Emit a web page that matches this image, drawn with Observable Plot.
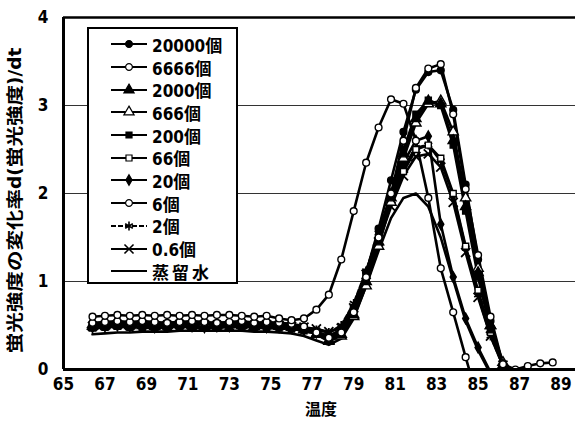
<!DOCTYPE html>
<html><head><meta charset="utf-8">
<script src="https://cdn.jsdelivr.net/npm/d3@7"></script>
<script src="https://cdn.jsdelivr.net/npm/@observablehq/plot@0.6"></script>
<style>
body{margin:0;background:#fff}
#wrap{position:relative;width:575px;height:430px;overflow:hidden}
</style>
</head><body><div id="wrap"></div>
<script>
const temps = [66.4,67.0,67.6,68.2,68.8,69.4,70.0,70.6,71.2,71.8,72.4,73.0,73.6,74.2,74.8,75.4,76.0,76.6,77.2,77.8,78.4,79.0,79.6,80.2,80.8,81.4,82.0,82.6,83.2,83.8,84.4,85.0,85.6,86.2,86.8,87.4,88.0,88.6,89.2];

const s20000 = [0.50,0.52,0.53,0.52,0.51,0.52,0.50,0.51,0.52,0.51,0.50,0.52,0.51,0.50,0.51,0.50,0.49,0.47,0.42,0.38,0.45,0.70,1.10,1.60,2.15,2.70,3.18,3.38,3.40,2.95,2.10,1.25,0.55,0.05,-0.30,null,null,null,null];
const s6666 = [0.53,0.54,0.55,0.54,0.55,0.54,0.53,0.54,0.55,0.54,0.53,0.54,0.55,0.53,0.54,0.53,0.52,0.49,0.42,0.36,0.42,0.65,1.05,1.50,2.00,2.60,3.20,3.42,3.47,2.90,2.05,1.30,0.60,0.06,0.00,0.04,0.07,0.08,null];
const s2000 = [0.49,0.50,0.51,0.50,0.50,0.49,0.50,0.51,0.50,0.49,0.50,0.51,0.50,0.49,0.50,0.49,0.48,0.45,0.40,0.33,0.40,0.62,1.00,1.45,1.95,2.45,2.85,3.05,3.02,2.60,1.85,1.10,0.50,0.05,-0.30,null,null,null,null];
const s666 = [0.51,0.52,0.52,0.51,0.52,0.51,0.51,0.52,0.51,0.52,0.51,0.51,0.52,0.51,0.52,0.50,0.49,0.46,0.40,0.32,0.38,0.60,0.95,1.40,1.90,2.40,2.80,3.02,3.05,2.70,1.95,1.15,0.50,0.08,-0.30,null,null,null,null];
const s200 = [0.47,0.48,0.49,0.48,0.48,0.47,0.48,0.49,0.48,0.47,0.48,0.48,0.49,0.48,0.47,0.47,0.46,0.44,0.41,0.34,0.42,0.65,1.02,1.48,1.98,2.50,2.90,3.06,3.00,2.55,1.80,1.05,0.45,0.03,-0.30,null,null,null,null];
const s66 = [0.50,0.51,0.52,0.51,0.50,0.51,0.52,0.51,0.50,0.51,0.52,0.51,0.50,0.51,0.52,0.51,0.49,0.47,0.43,0.38,0.45,0.68,1.05,1.45,1.90,2.25,2.50,2.55,2.40,2.00,1.40,0.90,0.42,0.05,-0.30,null,null,null,null];
const s20 = [0.48,0.49,0.50,0.49,0.49,0.48,0.49,0.50,0.49,0.48,0.49,0.49,0.50,0.49,0.48,0.48,0.47,0.45,0.42,0.37,0.45,0.70,1.10,1.55,2.00,2.35,2.60,2.65,1.65,1.05,0.58,0.25,-0.03,null,null,null,null,null,null];
const s6 = [0.60,0.61,0.62,0.61,0.62,0.61,0.62,0.61,0.62,0.61,0.62,0.62,0.61,0.60,0.61,0.58,0.56,0.58,0.68,0.85,1.25,1.80,2.35,2.75,3.07,3.02,2.60,1.95,1.15,0.65,0.14,-0.35,null,null,null,null,null,null,null];
const s2 = [0.52,0.53,0.54,0.53,0.53,0.52,0.53,0.54,0.53,0.52,0.53,0.53,0.54,0.53,0.52,0.52,0.50,0.48,0.45,0.42,0.50,0.75,1.12,1.55,1.95,2.30,2.52,2.55,2.37,1.98,1.38,0.85,0.38,0.04,-0.30,null,null,null,null];
const s06 = [0.49,0.50,0.51,0.50,0.51,0.50,0.50,0.51,0.50,0.51,0.50,0.50,0.51,0.50,0.51,0.50,0.49,0.48,0.46,0.43,0.47,0.70,1.08,1.45,1.85,2.20,2.42,2.45,2.30,1.90,1.33,0.82,0.38,0.05,-0.30,null,null,null,null];
const sWater = [0.40,0.41,0.42,0.42,0.43,0.43,0.43,0.44,0.44,0.44,0.44,0.44,0.44,0.43,0.43,0.42,0.41,0.38,0.33,0.28,0.35,0.58,0.95,1.35,1.72,1.95,2.00,1.85,1.50,1.02,0.55,0.22,-0.05,null,null,null,null,null,null];

const seriesNames = ["20000個","6666個","2000個","666個","200個","66個","20個","6個","2個","0.6個","蒸留水"];
const seriesValues = [s20000,s6666,s2000,s666,s200,s66,s20,s6,s2,s06,sWater];
const xTicks = [65,67,69,71,73,75,77,79,81,83,85,87,89];
const yTicks = [0,1,2,3,4];
const gridVals = [1,2,3];
const yTitle = "蛍光強度の変化率d(蛍光強度)/dt";
const xTitle = "温度";

const markerStyle = [
  {symbol:"circle", fill:"black", r:3.4},
  {symbol:"circle", fill:"white", r:3.4},
  {symbol:"triangle", fill:"black", r:3.8},
  {symbol:"triangle", fill:"white", r:3.8},
  {symbol:"square", fill:"black", r:3.4},
  {symbol:"square", fill:"white", r:3.4},
  {symbol:"diamond", fill:"black", r:3.2},
  {symbol:"circle", fill:"white", r:3.4},
  {symbol:"asterisk", fill:"none", r:4.2},
  {symbol:"times", fill:"none", r:4.2},
  null
];
const dashes = [null,null,null,null,null,null,null,null,"5,2",null,null];

const FONT = '"Liberation Sans Narrow","DejaVu Sans Condensed","Liberation Sans","Noto Sans CJK JP",sans-serif';

const rows = [];
seriesNames.forEach((name, k) => {
  seriesValues[k].forEach((v, i) => { if (v !== null) rows.push({s: name, t: temps[i], v}); });
});

const lineMarks = [];
const dotMarks = [];
const order = [10,9,8,6,5,4,3,2,0,1,7];
order.forEach(k => {
  const name = seriesNames[k];
  const d = rows.filter(r => r.s === name);
  lineMarks.push(Plot.line(d, {x:"t", y:"v", stroke:"black", strokeWidth:2.6, clip:true, strokeDasharray: dashes[k] || undefined}));
  const m = markerStyle[k];
  if (m) {
    dotMarks.push(Plot.dot(d.filter(r => r.v >= -0.02), {x:"t", y:"v", symbol:m.symbol, r:m.r,
      fill: m.fill, stroke:"black", strokeWidth: m.fill === "none" ? 1.8 : 1.4, clip:true}));
  }
});

const chart = Plot.plot({
  width:575, height:430,
  marginTop:17, marginBottom:61, marginLeft:63, marginRight:0,
  x:{domain:[65,89.7], ticks:xTicks, tickSize:0, tickPadding:8, tickFormat:d=>String(d), label:null},
  y:{domain:[0,4], ticks:yTicks, tickSize:0, tickPadding:15, tickFormat:d=>String(d), label:null},
  style:{fontFamily:FONT, fontSize:"17px", fontWeight:"bold", color:"black", background:"white"},
  marks:[
    Plot.ruleY(gridVals, {stroke:"#333", strokeWidth:1}),
    ...lineMarks,
    ...dotMarks,
    Plot.ruleX([65], {stroke:"black", strokeWidth:3}),
    Plot.ruleY([0], {stroke:"black", strokeWidth:3}),
    Plot.ruleY([4], {stroke:"black", strokeWidth:2.5})
  ]
});
const wrap = document.getElementById("wrap");
chart.style.position = "absolute"; chart.style.left = "0"; chart.style.top = "0";
wrap.appendChild(chart);

// Legend
const leg = document.createElement("div");
Object.assign(leg.style, {position:"absolute", left:"87px", top:"27px", width:"151px", height:"257px",
  boxSizing:"border-box", border:"2.5px solid black", background:"white", fontFamily:FONT,
  fontWeight:"bold", fontSize:"17px", paddingTop:"4px"});
seriesNames.forEach((name, k) => {
  const row = document.createElement("div");
  Object.assign(row.style, {height:"22.7px", display:"flex", alignItems:"center", whiteSpace:"nowrap"});
  const svg = d3.create("svg").attr("width", 62).attr("height", 20).style("flex", "none");
  svg.append("line").attr("x1", 22).attr("x2", 58).attr("y1", 10).attr("y2", 10)
    .attr("stroke", "black").attr("stroke-width", 2.2).attr("stroke-dasharray", dashes[k]);
  const m = markerStyle[k];
  if (m) {
    const sym = {circle:d3.symbolCircle, triangle:d3.symbolTriangle, square:d3.symbolSquare,
      diamond:d3.symbolDiamond, asterisk:d3.symbolAsterisk, times:d3.symbolTimes}[m.symbol];
    const area = Math.PI * m.r * m.r;
    svg.append("path").attr("d", d3.symbol(sym, area)()).attr("transform", "translate(40,10)")
      .attr("fill", m.fill).attr("stroke", "black").attr("stroke-width", m.fill === "none" ? 1.6 : 1.2);
  }
  row.appendChild(svg.node());
  const txt = document.createElement("span");
  txt.textContent = name;
  txt.style.marginLeft = "1px";
  if (name === "蒸留水") txt.style.letterSpacing = "3px";
  row.appendChild(txt);
  leg.appendChild(row);
});
wrap.appendChild(leg);

// Y title
const yt = document.createElement("div");
yt.textContent = yTitle;
Object.assign(yt.style, {position:"absolute", fontFamily:FONT, fontWeight:"bold", fontSize:"17px", whiteSpace:"nowrap", lineHeight:"1"});
wrap.appendChild(yt);
const w = yt.offsetWidth, h = yt.offsetHeight;
yt.style.left = (15 - w/2) + "px";
yt.style.top = (200 - h/2) + "px";
yt.style.transform = `rotate(-90deg) scaleX(${306 / w})`;

// X title
const xt = document.createElement("div");
xt.textContent = xTitle;
Object.assign(xt.style, {position:"absolute", fontFamily:FONT, fontWeight:"bold", fontSize:"16px", whiteSpace:"nowrap", lineHeight:"1"});
wrap.appendChild(xt);
xt.style.left = (321 - xt.offsetWidth/2) + "px";
xt.style.top = (410 - xt.offsetHeight/2) + "px";
</script></body></html>
